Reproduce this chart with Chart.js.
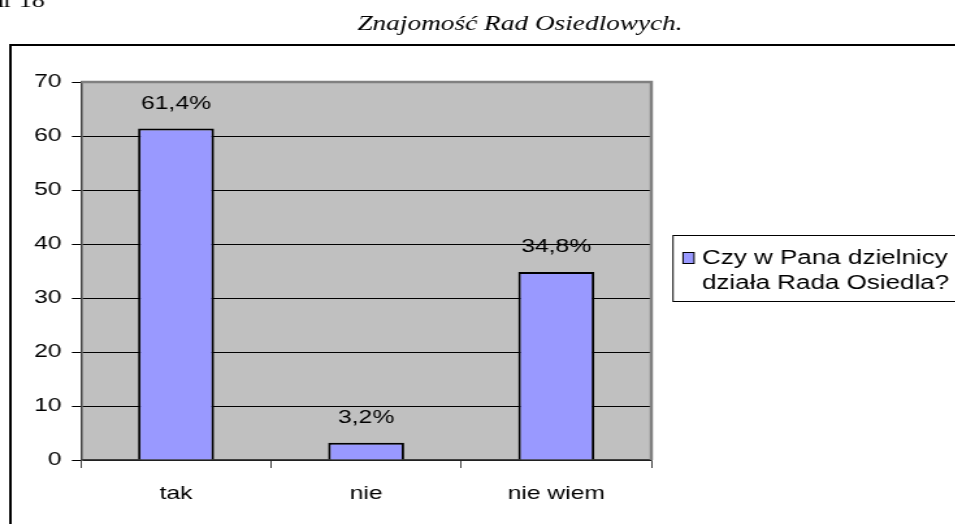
<!DOCTYPE html>
<html>
<head>
<meta charset="utf-8">
<script src="https://cdn.jsdelivr.net/npm/chart.js@4"></script>
<style>
  html, body { margin: 0; padding: 0; background: #fff; overflow: hidden; }
  /* the scanned original is stretched sideways, so we draw narrow and widen it */
  #wrap { width: 735px; height: 524px; transform: scaleX(1.3); transform-origin: 0 0; }
</style>
</head>
<body>
<div id="wrap"><canvas id="chart"></canvas></div>
<script>
const categories = ["tak", "nie", "nie wiem"];
const values = [61.4, 3.2, 34.8];
const seriesName = ["Czy w Pana dzielnicy", "działa Rada Osiedla?"];
const titleText = "Znajomość Rad Osiedlowych.";
const captionText = "Wykres nr 18";
const yMax = 70;
const yStep = 10;

const sans = "'Liberation Sans', Arial, sans-serif";
const serif = "'Liberation Serif', 'Times New Roman', serif";
const barColor = "#9999FF";

const decor = {
  id: "decor",
  beforeDraw(chart) {
    const ctx = chart.ctx;
    const a = chart.chartArea;
    ctx.save();
    // plot background
    ctx.fillStyle = "#C0C0C0";
    ctx.fillRect(a.left, a.top, a.right - a.left, a.bottom - a.top);
    // outer frame (runs off the right and bottom)
    ctx.strokeStyle = "#000";
    ctx.lineWidth = 2;
    ctx.beginPath();
    ctx.moveTo(8, 600);
    ctx.lineTo(8, 45);
    ctx.lineTo(800, 45);
    ctx.stroke();
    // caption cut at the top
    ctx.fillStyle = "#000";
    ctx.font = "20px " + serif;
    ctx.textAlign = "right";
    ctx.textBaseline = "alphabetic";
    ctx.fillText(captionText, 34.6, 7);
    // title
    ctx.font = "italic 21px " + serif;
    ctx.textAlign = "center";
    ctx.fillText(titleText, 400, 30);
    // legend
    ctx.lineWidth = 1;
    ctx.strokeRect(517.7, 235.5, 300, 66);
    ctx.fillStyle = barColor;
    ctx.fillRect(525.4, 252.5, 8.5, 11);
    ctx.strokeRect(525.4, 252.5, 8.5, 11);
    ctx.fillStyle = "#000";
    ctx.font = "20px " + sans;
    ctx.textAlign = "left";
    ctx.fillText(seriesName[0], 540, 264);
    ctx.fillText(seriesName[1], 540, 289);
    ctx.restore();
  },
  afterDatasetsDraw(chart) {
    const ctx = chart.ctx;
    const a = chart.chartArea;
    ctx.save();
    // grey frame on top and right of the plot
    ctx.strokeStyle = "#808080";
    ctx.lineWidth = 2.5;
    ctx.beginPath();
    ctx.moveTo(a.left, a.top);
    ctx.lineTo(a.right, a.top);
    ctx.lineTo(a.right, a.bottom);
    ctx.stroke();
    // value labels
    ctx.fillStyle = "#000";
    ctx.font = "19px " + sans;
    ctx.textAlign = "center";
    ctx.textBaseline = "middle";
    chart.getDatasetMeta(0).data.forEach((bar, i) => {
      ctx.fillText(values[i].toFixed(1).replace(".", ",") + "%", bar.x, bar.y - 25);
    });
    ctx.restore();
  }
};

new Chart(document.getElementById("chart"), {
  type: "bar",
  data: {
    labels: categories,
    datasets: [{
      label: seriesName.join(" "),
      data: values,
      backgroundColor: barColor,
      borderColor: "#000",
      borderWidth: 2,
      barPercentage: 0.4,
      categoryPercentage: 1.0
    }]
  },
  options: {
    responsive: true,
    maintainAspectRatio: false,
    animation: false,
    layout: { padding: { left: 0, top: 82, right: 234, bottom: 0 } },
    plugins: {
      legend: { display: false },
      title: { display: false },
      tooltip: { enabled: false }
    },
    scales: {
      x: {
        grid: { offset: true, drawOnChartArea: false, color: "#404040", tickLength: 8 },
        border: { color: "#404040", width: 1.5 },
        ticks: { color: "#000", font: { family: sans, size: 19 }, padding: 14 },
        afterFit(s) { s.height = 64; }
      },
      y: {
        min: 0,
        max: yMax,
        ticks: { stepSize: yStep, color: "#000", font: { family: sans, size: 19 }, padding: 8 },
        grid: { color: "#000", tickLength: 7 },
        border: { color: "#404040", width: 1.5 },
        afterFit(s) { s.width = 62.3; }
      }
    }
  },
  plugins: [decor]
});
</script>
</body>
</html>
